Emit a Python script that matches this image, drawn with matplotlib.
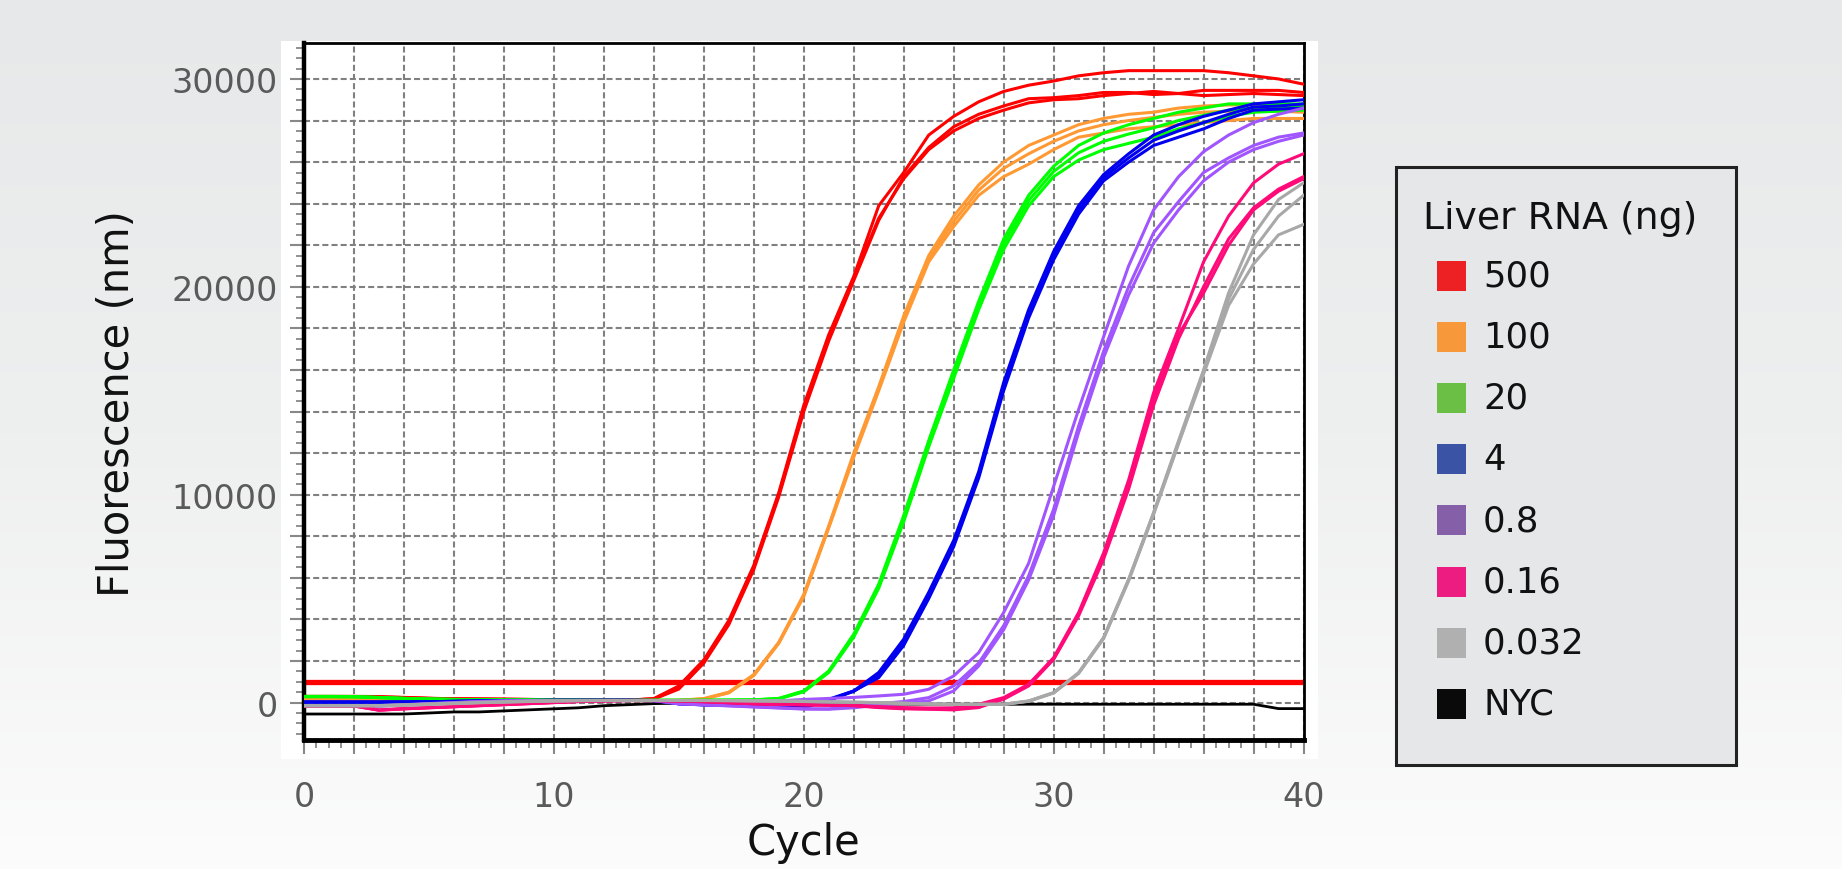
import numpy as np
import matplotlib
matplotlib.use("Agg")
import matplotlib.pyplot as plt
from matplotlib.patches import Rectangle
from matplotlib.colors import LinearSegmentedColormap
from matplotlib.ticker import MultipleLocator, FuncFormatter

plt.rcParams['font.family'] = ['DejaVu Sans']

# qPCR amplification data, fluorescence per cycle (0..40), 3 replicates per dilution
cycles = list(range(41))

red = [
    [300, 300, 300, 290, 250, 210, 180, 170, 160, 150, 140, 130, 120, 120,
     190, 800, 2050, 3950, 6600, 10100, 14300, 17700, 20500, 23900, 25500, 27300, 28200, 28900,
     29400, 29700, 29900, 30150, 30300, 30400, 30400, 30400, 30400, 30300, 30150, 30000, 29750],
    [280, 280, 280, 270, 240, 200, 180, 170, 160, 150, 140, 130, 120, 120,
     170, 650, 1900, 3750, 6400, 9900, 14000, 17400, 20300, 23200, 25300, 26700, 27700, 28300,
     28700, 29050, 29100, 29200, 29350, 29350, 29250, 29300, 29450, 29450, 29450, 29450, 29350],
    [260, 260, 260, 250, 230, 200, 180, 170, 160, 150, 140, 130, 120, 120,
     180, 700, 1950, 3850, 6500, 10000, 14100, 17500, 20400, 23300, 25200, 26600, 27500, 28100,
     28500, 28850, 29000, 29050, 29200, 29300, 29400, 29300, 29200, 29250, 29300, 29250, 29200],
]
orange = [
    [150, 150, 150, 150, 140, 130, 120, 110, 110, 110, 110, 100, 100, 100,
     100, 110, 190, 500, 1350, 2900, 5200, 8500, 12000, 15200, 18600, 21500, 23400, 24900,
     26000, 26800, 27300, 27800, 28100, 28300, 28400, 28600, 28700, 28750, 28750, 28700, 28650],
    [130, 130, 130, 130, 120, 110, 110, 100, 100, 100, 100, 100, 100, 100,
     90, 100, 170, 470, 1300, 2850, 5100, 8400, 11800, 15000, 18300, 21200, 22900, 24400,
     25300, 25900, 26600, 27200, 27400, 27600, 27700, 27800, 27900, 28000, 28100, 28100, 28100],
    [140, 140, 140, 140, 130, 120, 110, 105, 105, 105, 100, 100, 100, 100,
     95, 105, 180, 480, 1320, 2870, 5150, 8450, 11900, 15100, 18400, 21350, 23150, 24650,
     25700, 26400, 27000, 27500, 27800, 28000, 28150, 28300, 28400, 28450, 28500, 28450, 28400],
]
green = [
    [300, 300, 290, 250, 200, 170, 150, 140, 130, 130, 120, 120, 110, 110,
     110, 110, 110, 120, 130, 200, 560, 1520, 3290, 5700, 9000, 12600, 16000, 19300,
     22300, 24400, 25800, 26800, 27400, 27800, 28100, 28400, 28600, 28800, 28800, 28800, 28800],
    [290, 290, 280, 240, 200, 170, 150, 140, 130, 130, 120, 120, 110, 110,
     110, 110, 110, 115, 125, 180, 520, 1450, 3150, 5500, 8700, 12300, 15600, 18900,
     21800, 23900, 25300, 26100, 26600, 26900, 27200, 27600, 27900, 28200, 28400, 28450, 28500],
    [280, 280, 270, 240, 200, 170, 150, 140, 130, 130, 120, 120, 110, 110,
     110, 110, 110, 118, 128, 190, 540, 1480, 3220, 5600, 8850, 12450, 15800, 19100,
     22050, 24150, 25550, 26450, 27000, 27350, 27650, 28000, 28250, 28500, 28600, 28650, 28650],
]
blue = [
    [30, 30, 30, 30, 30, 40, 60, 80, 100, 100, 110, 110, 110, 110,
     100, -50, -100, -120, -150, -200, -240, 100, 560, 1450, 3050, 5300, 7800, 11100,
     15400, 18900, 21700, 23900, 25400, 26400, 27300, 27800, 28200, 28500, 28800, 28900, 29000],
    [20, 20, 20, 20, 30, 40, 60, 80, 100, 100, 110, 110, 110, 110,
     90, -60, -110, -130, -160, -210, -250, 160, 560, 1200, 2750, 5000, 7500, 10800,
     15000, 18500, 21300, 23500, 25100, 26000, 26800, 27200, 27600, 28100, 28500, 28550, 28600],
    [25, 25, 25, 25, 30, 40, 60, 80, 100, 100, 110, 110, 110, 110,
     95, -55, -105, -125, -155, -205, -245, 130, 540, 1300, 2850, 5100, 7650, 10950,
     15200, 18700, 21500, 23700, 25250, 26200, 27050, 27500, 27900, 28300, 28650, 28700, 28800],
]
purple = [
    [-150, -150, -150, -150, -100, -50, 0, 50, 80, 100, 100, 100, 100, 100,
     100, 90, 80, 70, 70, 80, 150, 200, 250, 320, 400, 640, 1280, 2400,
     4330, 6700, 10400, 14100, 17600, 21000, 23700, 25300, 26500, 27300, 27900, 28300, 28600],
    [-160, -160, -160, -160, -110, -60, -10, 40, 70, 90, 100, 100, 100, 100,
     100, -50, -100, -150, -200, -250, -300, -300, -200, -50, 50, 240, 800, 1900,
     3700, 6100, 9300, 13300, 16900, 20000, 22600, 24100, 25500, 26200, 26800, 27200, 27400],
    [-170, -170, -170, -170, -120, -70, -20, 30, 60, 90, 100, 100, 100, 100,
     100, -60, -110, -160, -210, -260, -310, -320, -250, -120, -30, 80, 560, 1760,
     3500, 5900, 9000, 13000, 16600, 19600, 22100, 23700, 25100, 26000, 26600, 27000, 27300],
]
pink = [
    [-160, -160, -160, -370, -300, -250, -200, -150, -100, -50, 0, 50, 80, 100,
     100, 80, 50, 0, -50, -80, -100, -120, -150, -240, -300, -320, -350, -240,
     160, 800, 2080, 4170, 6900, 10260, 14300, 17500, 20000, 22300, 23800, 24700, 25300],
    [-150, -150, -150, -350, -290, -240, -190, -140, -90, -40, 10, 60, 90, 100,
     100, 70, 40, -10, -60, -90, -110, -130, -140, -200, -240, -260, -250, -80,
     240, 880, 2160, 4330, 7200, 10700, 14900, 18000, 21200, 23400, 25000, 25900, 26400],
    [-170, -170, -170, -360, -300, -250, -200, -150, -100, -50, 0, 50, 80, 100,
     100, 75, 45, -5, -55, -85, -105, -125, -145, -220, -280, -300, -320, -180,
     200, 850, 2100, 4250, 7050, 10500, 14600, 17700, 19700, 22000, 23700, 24600, 25200],
]
gray = [
    [-150, -150, -150, -150, -120, -80, -40, 0, 30, 60, 80, 100, 100, 100,
     100, 100, 100, 100, 90, 80, 60, 40, 20, 0, -30, -60, -80, -80,
     -80, 80, 480, 1440, 3130, 5930, 9140, 12600, 16000, 19700, 22500, 24200, 25000],
    [-140, -140, -140, -140, -110, -70, -30, 10, 40, 70, 90, 100, 100, 100,
     100, 100, 100, 95, 85, 75, 55, 35, 15, -5, -35, -65, -85, -85,
     -80, 70, 470, 1420, 3100, 5900, 9100, 12500, 15900, 19400, 21800, 23400, 24400],
    [-160, -160, -160, -160, -130, -90, -50, -10, 20, 50, 70, 90, 100, 100,
     100, 100, 100, 90, 80, 70, 50, 30, 10, -10, -40, -70, -90, -90,
     -90, 60, 460, 1400, 3080, 5850, 9050, 12450, 15800, 19100, 21100, 22500, 23000],
]
ntc = [-550, -550, -550, -550, -550, -500, -450, -450, -400, -350, -300, -250, -150, -100,
       -50, -30, -20, -20, -30, -40, -50, -60, -60, -70, -70, -80, -80, -80,
       -80, -80, -80, -80, -80, -80, -80, -80, -80, -80, -80, -290, -290]
threshold = 1000

legend_labels = ["500", "100", "20", "4", "0.8", "0.16", "0.032", "NYC"]
legend_colors = ["#ed2024", "#f7993a", "#6cbf45", "#3a53a4", "#8560a8", "#ed1c80", "#b0b0b0", "#0a0a0a"]

W, H = 1842, 870
def fx(px):
    return px / W
def fy(py):
    return 1 - py / H

fig = plt.figure(figsize=(W / 100, H / 100), dpi=100)

# background gradient
bg = fig.add_axes([0, 0, 1, 1], zorder=-10)
grad = np.linspace(0, 1, 256).reshape(-1, 1)
bg.imshow(grad, aspect='auto', extent=[0, 1, 0, 1],
          cmap=LinearSegmentedColormap.from_list('bg', ['#e7e8e9', '#eeefef', '#fcfcfc']))
bg.set_axis_off()

# white panel behind the plot
fig.add_artist(Rectangle((fx(281), fy(760)), (1318 - 281) / W, (760 - 42) / H,
                         transform=fig.transFigure, facecolor='white', edgecolor='none', zorder=-5))

ax = fig.add_axes([fx(304), fy(741), (1303.5 - 304) / W, (741 - 44) / H])
ax.set_facecolor('white')

ax.axhline(threshold, color='#ff0000', lw=3.8, zorder=2)

ax.plot(cycles, ntc, color='#000000', lw=2.0, zorder=3)
for group, col in [(red, '#ff0000'), (orange, '#ff9933'), (green, '#00ff00'), (blue, '#0000ee'),
                   (purple, '#a055ff'), (pink, '#ff0a78'), (gray, '#a8a8a8')]:
    for rep in group:
        ax.plot(cycles, rep, color=col, lw=2.2, zorder=3)

ax.set_xlim(0, 40)
ax.set_ylim(-1800, 31730)

ax.xaxis.set_major_locator(MultipleLocator(2))
ax.xaxis.set_minor_locator(MultipleLocator(0.5))
ax.yaxis.set_major_locator(MultipleLocator(2000))
ax.yaxis.set_minor_locator(MultipleLocator(500))
ax.xaxis.set_major_formatter(FuncFormatter(lambda v, p: f"{v:.0f}" if round(v) % 10 == 0 else ""))
ax.yaxis.set_major_formatter(FuncFormatter(lambda v, p: f"{v:.0f}" if round(v) % 10000 == 0 else ""))

ax.grid(True, which='major', color='#808080', linestyle=(0, (2.9, 1.5)), linewidth=1.5)
ax.tick_params(which='major', direction='out', length=10, width=1.5, color='#888888',
               labelcolor='#5a5a5a', labelsize=24)
ax.tick_params(which='minor', direction='out', length=6, width=1.3, color='#888888')
ax.tick_params(axis='x', which='major', pad=19)
ax.tick_params(axis='y', which='major', pad=9)

ax.spines['left'].set_linewidth(3.2)
ax.spines['bottom'].set_linewidth(3.5)
ax.spines['top'].set_linewidth(2.0)
ax.spines['right'].set_linewidth(2.0)
for s in ax.spines.values():
    s.set_color('black')

fig.text(fx(117), fy(404), "Fluorescence (nm)", rotation=90, ha='center', va='center',
         fontsize=30, color='#111111')
fig.text(fx(803), fy(843), "Cycle", ha='center', va='center', fontsize=30, color='#111111')

# legend box
fig.add_artist(Rectangle((fx(1396), fy(766)), (1736 - 1396) / W, (766 - 168) / H,
                         transform=fig.transFigure, facecolor='#e6e7e8', edgecolor='#222222',
                         lw=2.2, zorder=1))
fig.text(fx(1423), fy(219), "Liver RNA (ng)", ha='left', va='center', fontsize=27.2,
         color='#111111', zorder=2)
ys = [277, 338, 399, 460, 521, 583, 644, 705]
for lab, col, yc in zip(legend_labels, legend_colors, ys):
    fig.add_artist(Rectangle((fx(1437), fy(yc + 15)), 29 / W, 30 / H, transform=fig.transFigure,
                             facecolor=col, edgecolor='none', zorder=2))
    fig.text(fx(1483), fy(yc), lab, ha='left', va='center', fontsize=25.5, color='#111111', zorder=2)

fig.savefig("out.png", dpi=100)
